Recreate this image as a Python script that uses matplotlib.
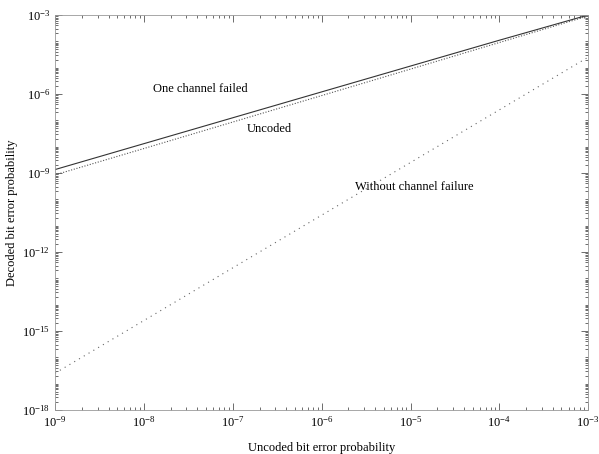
import matplotlib
matplotlib.use("Agg")
import matplotlib.pyplot as plt
import matplotlib.ticker as ticker
import numpy as np

plt.rcParams['font.family'] = ['Liberation Serif', 'DejaVu Serif']
plt.rcParams['mathtext.fontset'] = 'stix'

# uncoded bit error probability (x)
p_uncoded = [1e-9, 1e-8, 1e-7, 1e-6, 1e-5, 1e-4, 1e-3]
# decoded curves
one_channel_failed = [1.35e-9, 1.3e-8, 1.25e-7, 1.2e-6, 1.15e-5, 1.1e-4, 1.0e-3]
uncoded = [0.85e-9, 0.85e-8, 0.86e-7, 0.87e-6, 0.88e-5, 0.9e-4, 0.92e-3]
without_failure = [2.5e-17, 2.5e-15, 2.5e-13, 2.5e-11, 2.5e-9, 2.5e-7, 2.5e-5]

fig = plt.figure(figsize=(5.99, 4.54), dpi=100)
ax = fig.add_axes([0.092, 0.097, 0.890, 0.870])

ax.loglog(p_uncoded, one_channel_failed, color='#333333', lw=0.8, ls='-')
ax.loglog(p_uncoded, uncoded, color='#555555', lw=0.8, ls=(0, (1, 1.5)))
ax.loglog(p_uncoded, without_failure, color='#666666', lw=0.8, ls=(0, (1, 4)))

ax.set_xlim(1e-9, 1e-3)
ax.set_ylim(1e-18, 1e-3)

ax.xaxis.set_major_locator(ticker.LogLocator(base=10, numticks=10))
ax.xaxis.set_minor_locator(ticker.LogLocator(base=10, subs=np.arange(2, 10), numticks=20))
ax.xaxis.set_minor_formatter(ticker.NullFormatter())
ax.set_yticks([1e-18, 1e-15, 1e-12, 1e-9, 1e-6, 1e-3])
ax.yaxis.set_minor_locator(ticker.LogLocator(base=10, subs=np.arange(1, 10), numticks=30))
ax.yaxis.set_minor_formatter(ticker.NullFormatter())

ax.tick_params(which='both', direction='in', top=True, right=True,
               colors='#555555', labelcolor='black', labelsize=9, width=0.6)
ax.tick_params(which='major', length=5)
ax.tick_params(which='minor', length=2.5)
for s in ax.spines.values():
    s.set_color('#999999')
    s.set_linewidth(0.6)

ax.set_xlabel('Uncoded bit error probability', fontsize=9, labelpad=9)
ax.set_ylabel('Decoded bit error probability', fontsize=9, labelpad=3)

ax.text(1.26e-8, 1.2e-6, 'One channel failed', fontsize=9)
ax.text(1.45e-7, 3.5e-8, 'Uncoded', fontsize=9)
ax.text(2.35e-6, 2.2e-10, 'Without channel failure', fontsize=9)

fig.savefig('out.png', dpi=100)
